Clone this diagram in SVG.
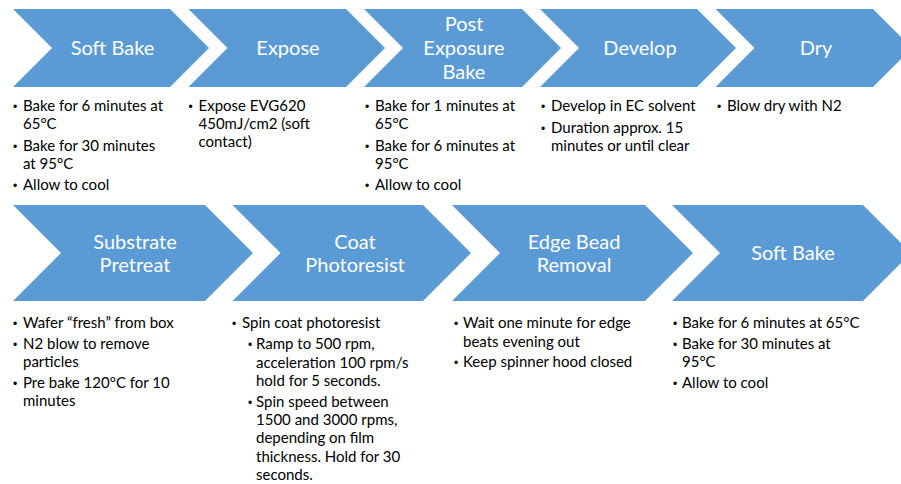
<svg xmlns="http://www.w3.org/2000/svg" width="901" height="484" viewBox="0 0 901 484">
  <style>
    .chev { fill: #5B9BD5; }
    .title { font-family: Lato, "Liberation Sans", sans-serif; font-size: 20px; fill: #FFFFFF; text-anchor: middle; }
    .body { font-family: Lato, "Liberation Sans", sans-serif; font-size: 15px; fill: #000000; }
    .dot { font-family: "Liberation Sans", sans-serif; font-size: 12px; fill: #000000; }
  </style>
  <rect width="901" height="484" fill="#FFFFFF"/>

  <!-- Top row: process steps -->
  <g id="step-soft-bake-1">
    <polygon class="chev" points="13,9 170,9 209,48 170,87 13,87 52,48"/>
    <text class="title" x="112.5" y="55">Soft Bake</text>
    <text class="dot" x="13" y="111">•</text>
    <text class="body" x="23" y="111">Bake for 6 minutes at</text>
    <text class="body" x="23" y="129">65°C</text>
    <text class="dot" x="13" y="151">•</text>
    <text class="body" x="23" y="151">Bake for 30 minutes</text>
    <text class="body" x="23" y="169">at 95°C</text>
    <text class="dot" x="13" y="190">•</text>
    <text class="body" x="23" y="190">Allow to cool</text>
  </g>

  <g id="step-expose">
    <polygon class="chev" points="188.5,9 346,9 385,48 346,87 188.5,87 227.5,48"/>
    <text class="title" x="288" y="55">Expose</text>
    <text class="dot" x="188.5" y="111">•</text>
    <text class="body" x="198.5" y="111">Expose EVG620</text>
    <text class="body" x="198.5" y="129">450mJ/cm2 (soft</text>
    <text class="body" x="198.5" y="147">contact)</text>
  </g>

  <g id="step-post-exposure-bake">
    <polygon class="chev" points="364,9 522,9 561,48 522,87 364,87 403,48"/>
    <text class="title" x="464" y="31">Post</text>
    <text class="title" x="464" y="55">Exposure</text>
    <text class="title" x="464" y="79">Bake</text>
    <text class="dot" x="365" y="111">•</text>
    <text class="body" x="375" y="111">Bake for 1 minutes at</text>
    <text class="body" x="375" y="129">65°C</text>
    <text class="dot" x="365" y="151">•</text>
    <text class="body" x="375" y="151">Bake for 6 minutes at</text>
    <text class="body" x="375" y="169">95°C</text>
    <text class="dot" x="365" y="190">•</text>
    <text class="body" x="375" y="190">Allow to cool</text>
  </g>

  <g id="step-develop">
    <polygon class="chev" points="540,9 697,9 736,48 697,87 540,87 579,48"/>
    <text class="title" x="640" y="55">Develop</text>
    <text class="dot" x="541" y="111">•</text>
    <text class="body" x="551" y="111">Develop in EC solvent</text>
    <text class="dot" x="541" y="133">•</text>
    <text class="body" x="551" y="133">Duration approx. 15</text>
    <text class="body" x="551" y="151">minutes or until clear</text>
  </g>

  <g id="step-dry">
    <polygon class="chev" points="715.5,9 873,9 912,48 873,87 715.5,87 754.5,48"/>
    <text class="title" x="816" y="55">Dry</text>
    <text class="dot" x="717" y="111">•</text>
    <text class="body" x="727" y="111">Blow dry with N2</text>
  </g>

  <!-- Bottom row: process steps -->
  <g id="step-substrate-pretreat">
    <polygon class="chev" points="13,205 205,205 253,253 205,301 13,301 61,253"/>
    <text class="title" x="135" y="249">Substrate</text>
    <text class="title" x="135" y="272">Pretreat</text>
    <text class="dot" x="13" y="328">•</text>
    <text class="body" x="23" y="328">Wafer “fresh” from box</text>
    <text class="dot" x="13" y="349">•</text>
    <text class="body" x="23" y="349">N2 blow to remove</text>
    <text class="body" x="23" y="367">particles</text>
    <text class="dot" x="13" y="388">•</text>
    <text class="body" x="23" y="388">Pre bake 120°C for 10</text>
    <text class="body" x="23" y="406">minutes</text>
  </g>

  <g id="step-coat-photoresist">
    <polygon class="chev" points="232.5,205 423,205 471,253 423,301 232.5,301 280.5,253"/>
    <text class="title" x="355" y="249">Coat</text>
    <text class="title" x="355" y="272">Photoresist</text>
    <text class="dot" x="232" y="328">•</text>
    <text class="body" x="242" y="328">Spin coat photoresist</text>
    <text class="dot" x="248" y="349">•</text>
    <text class="body" x="256" y="349">Ramp to 500 rpm,</text>
    <text class="body" x="256" y="368">acceleration 100 rpm/s</text>
    <text class="body" x="256" y="386">hold for 5 seconds.</text>
    <text class="dot" x="248" y="407">•</text>
    <text class="body" x="256" y="407">Spin speed between</text>
    <text class="body" x="256" y="425">1500 and 3000 rpms,</text>
    <text class="body" x="256" y="443">depending on film</text>
    <text class="body" x="256" y="462">thickness. Hold for 30</text>
    <text class="body" x="256" y="480">seconds.</text>
  </g>

  <g id="step-edge-bead-removal">
    <polygon class="chev" points="452,205 645,205 693,253 645,301 452,301 500,253"/>
    <text class="title" x="574" y="249">Edge Bead</text>
    <text class="title" x="574" y="272">Removal</text>
    <text class="dot" x="454" y="328">•</text>
    <text class="body" x="463" y="328">Wait one minute for edge</text>
    <text class="body" x="463" y="347">beats evening out</text>
    <text class="dot" x="454" y="367">•</text>
    <text class="body" x="463" y="367">Keep spinner hood closed</text>
  </g>

  <g id="step-soft-bake-2">
    <polygon class="chev" points="672,205 863,205 911,253 863,301 672,301 720,253"/>
    <text class="title" x="793" y="260">Soft Bake</text>
    <text class="dot" x="673" y="328">•</text>
    <text class="body" x="682" y="328">Bake for 6 minutes at 65°C</text>
    <text class="dot" x="673" y="349">•</text>
    <text class="body" x="682" y="349">Bake for 30 minutes at</text>
    <text class="body" x="682" y="367">95°C</text>
    <text class="dot" x="673" y="388">•</text>
    <text class="body" x="682" y="388">Allow to cool</text>
  </g>
</svg>
